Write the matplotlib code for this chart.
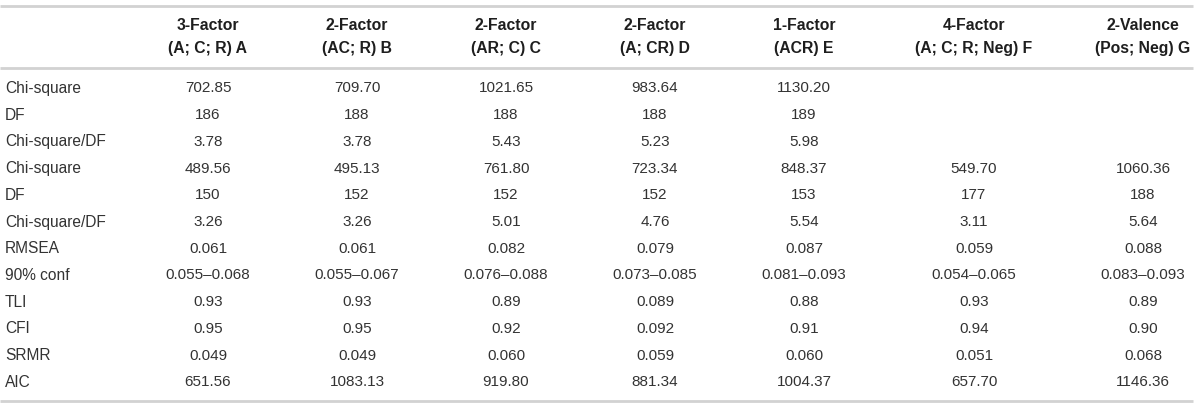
import matplotlib.pyplot as plt

plt.rcParams['font.family'] = ['Liberation Sans', 'DejaVu Sans']

# column headers (two lines each)
headers_top = ["3-Factor", "2-Factor", "2-Factor", "2-Factor", "1-Factor", "4-Factor", "2-Valence"]
headers_bottom = ["(A; C; R) A", "(AC; R) B", "(AR; C) C", "(A; CR) D", "(ACR) E",
                  "(A; C; R; Neg) F", "(Pos; Neg) G"]

row_labels = ["Chi-square", "DF", "Chi-square/DF", "Chi-square", "DF", "Chi-square/DF",
              "RMSEA", "90% conf", "TLI", "CFI", "SRMR", "AIC"]

col_a = ["702.85", "186", "3.78", "489.56", "150", "3.26", "0.061", "0.055–0.068", "0.93", "0.95", "0.049", "651.56"]
col_b = ["709.70", "188", "3.78", "495.13", "152", "3.26", "0.061", "0.055–0.067", "0.93", "0.95", "0.049", "1083.13"]
col_c = ["1021.65", "188", "5.43", "761.80", "152", "5.01", "0.082", "0.076–0.088", "0.89", "0.92", "0.060", "919.80"]
col_d = ["983.64", "188", "5.23", "723.34", "152", "4.76", "0.079", "0.073–0.085", "0.089", "0.092", "0.059", "881.34"]
col_e = ["1130.20", "189", "5.98", "848.37", "153", "5.54", "0.087", "0.081–0.093", "0.88", "0.91", "0.060", "1004.37"]
col_f = ["", "", "", "549.70", "177", "3.11", "0.059", "0.054–0.065", "0.93", "0.94", "0.051", "657.70"]
col_g = ["", "", "", "1060.36", "188", "5.64", "0.088", "0.083–0.093", "0.89", "0.90", "0.068", "1146.36"]
columns = [col_a, col_b, col_c, col_d, col_e, col_f, col_g]

# layout in pixels
W, H = 1200, 409
col_x = [208, 357, 506, 655, 804, 974, 1143]
label_x = 5
row_y0, row_dy = 88.5, 26.7
line_color = '#d2d2d2'
text_color = '#333333'

fig = plt.figure(figsize=(W / 100, H / 100), dpi=100)
ax = fig.add_axes([0, 0, 1, 1])
ax.set_xlim(0, W)
ax.set_ylim(H, 0)
ax.axis('off')

for y in (6, 68, 401):
    ax.plot([0, 1193], [y, y], color=line_color, lw=2, solid_capstyle='butt')

for x, top, bottom in zip(col_x, headers_top, headers_bottom):
    ax.text(x, 26, top, ha='center', va='center', fontsize=11.3, fontweight='bold', color='#1e1e1e')
    ax.text(x, 48.5, bottom, ha='center', va='center', fontsize=11.3, fontweight='bold', color='#1e1e1e')

for i, label in enumerate(row_labels):
    y = row_y0 + i * row_dy
    ax.text(label_x, y, label, ha='left', va='center', fontsize=11.2, color=text_color)
    for x, col in zip(col_x, columns):
        ax.text(x, y, col[i], ha='center', va='center', fontsize=11, color=text_color)

fig.savefig('out.png', dpi=100, facecolor='white')
